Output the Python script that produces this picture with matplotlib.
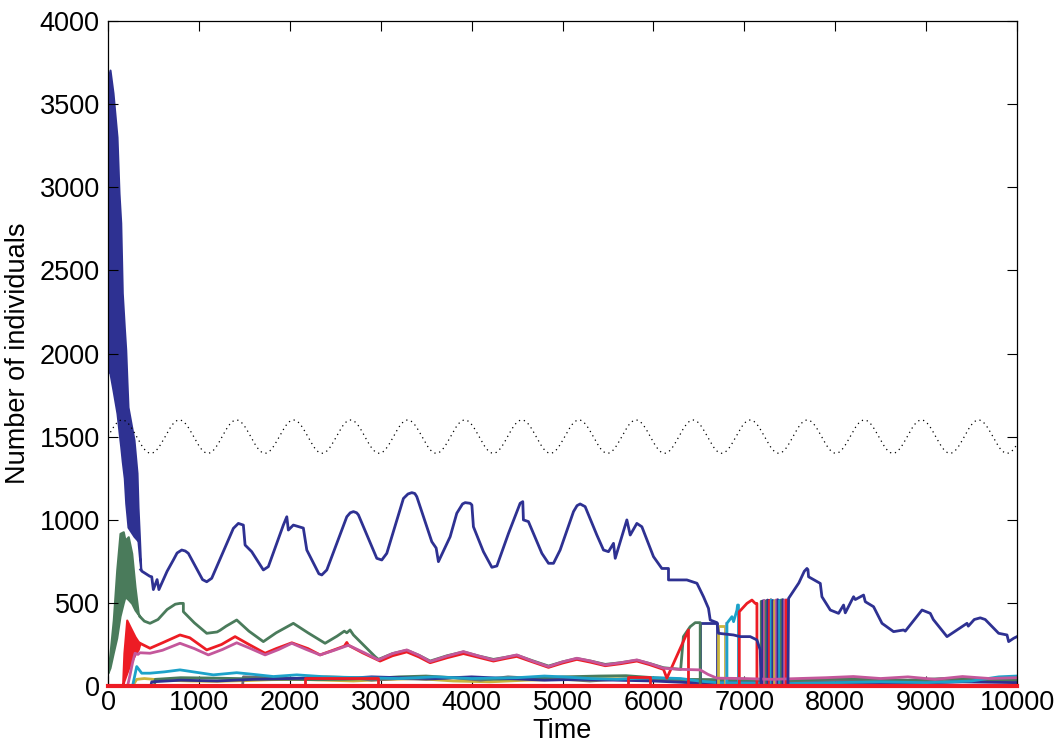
import numpy as np
import matplotlib.pyplot as plt

plt.rcParams['font.family'] = ['Liberation Sans', 'DejaVu Sans']

BLUE = '#2e3192'
GREEN = '#4a7b5b'
RED = '#ed1c24'
PINK = '#c4579b'
CYAN = '#1da2c9'
OLIVE = '#c9b43c'
GREY = '#6d6e70'
LILAC = '#b79fcb'

# carrying capacity (dotted)
cap_mean = 1500
cap_amp = 100
cap_period = 628

# dominant strain: fast oscillating start (envelope), then the slow trace
blue_band_t = [0, 22, 55, 99, 121, 140, 157, 179, 195, 209, 220, 286, 319, 330, 345, 360]
blue_band_hi = [3650, 3705, 3567, 3302, 2965, 2785, 2364, 2159, 2021, 1822, 1678, 1480, 1281, 1077, 900, 710]
blue_band_lo = [1900, 1880, 1780, 1640, 1530, 1440, 1350, 1250, 1100, 1020, 955, 900, 880, 870, 780, 700]

blue_t = [360, 374, 460, 481, 499, 540, 560, 650, 719, 760, 811, 850, 884, 1040, 1086, 1141, 1379,
          1434, 1489, 1508, 1581, 1709, 1764, 1929, 1967, 1984, 2039, 2149, 2187, 2320, 2352,
          2407, 2627, 2665, 2700, 2735, 2755, 2957, 3012, 3067, 3250, 3300, 3342, 3375, 3397,
          3562, 3610, 3635, 3764, 3837, 3900, 3929, 3984, 4003, 4020, 4130, 4223, 4278, 4406,
          4534, 4563, 4570, 4625, 4773, 4846, 4901, 4974, 5121, 5160, 5194, 5249, 5378, 5451,
          5506, 5561, 5580, 5708, 5745, 5818, 5873, 6001, 6093, 6166, 6166, 6368, 6479, 6551,
          6606, 6625, 6699, 6716, 6881, 6955, 7065, 7139, 7175, 7185, 7480, 7487, 7600, 7660,
          7689, 7700, 7707, 7836, 7854, 7946, 8037, 8092, 8111, 8202, 8221, 8312, 8331, 8422,
          8515, 8642, 8752, 8771, 8955, 9046, 9079, 9230, 9450, 9464, 9530, 9596, 9650, 9798,
          9890, 9908, 9963, 10000]
blue_v = [700, 690, 660, 657, 580, 640, 580, 690, 758, 800, 818, 812, 798, 640, 627, 648, 948,
          978, 968, 848, 808, 698, 718, 968, 1018, 938, 968, 950, 818, 675, 668,
          698, 1018, 1042, 1049, 1042, 1029, 768, 758, 798, 1128, 1155, 1163, 1158, 1139,
          868, 830, 748, 898, 1039, 1095, 1103, 1099, 1089, 958, 808, 714, 722, 918,
          1099, 1109, 999, 989, 798, 738, 738, 818, 1049, 1085, 1095, 1079, 908, 818,
          808, 858, 768, 999, 908, 978, 958, 778, 707, 707, 638, 638, 618, 537,
          467, 397, 381, 317, 307, 297, 297, 277, 217, 0, 0, 527, 620, 690,
          707, 700, 657, 617, 537, 457, 437, 487, 440, 537, 520, 547, 507, 477,
          377, 327, 337, 330, 457, 437, 400, 297, 377, 360, 400, 410, 400, 317,
          307, 267, 287, 297]

# second strain
green_band_t = [0, 22, 58, 96, 132, 168, 187, 223, 261, 297, 333, 352]
green_band_hi = [80, 197, 397, 698, 918, 928, 878, 898, 798, 597, 437, 417]
green_band_lo = [80, 110, 200, 290, 420, 500, 537, 520, 497, 457, 430, 417]
green_t = [352, 400, 462, 550, 650, 740, 792, 829, 829, 950, 1086, 1200, 1233, 1300, 1416, 1550,
           1709, 1850, 2039, 2200, 2388, 2520, 2600, 2627, 2663, 2700, 2883, 2938, 2975, 3130,
           3287, 3420, 3544, 3730, 3910, 4080, 4240, 4370, 4497, 4670, 4846, 5000, 5158, 5310,
           5470, 5640, 5818, 5960, 6111, 6300, 6330, 6405, 6460, 6515, 6515]
green_v = [417, 390, 377, 400, 460, 492, 497, 497, 447, 380, 317, 325, 335, 360, 397, 330,
           267, 320, 377, 320, 257, 300, 330, 320, 337, 307, 207, 177, 160, 195,
           215, 185, 150, 182, 205, 180, 160, 172, 185, 152, 120, 145, 165, 150,
           130, 140, 155, 135, 110, 100, 297, 357, 381, 381, 0]

# third strain (red) and fourth strain (pink)
red_band_t = [160, 175, 206, 242, 297, 333, 352]
red_band_hi = [0, 200, 397, 357, 297, 267, 257]
red_band_lo = [0, 30, 77, 130, 190, 220, 257]
red_t = [352, 462, 600, 792, 900, 1086, 1250, 1398, 1550, 1728, 1850, 2022, 2200, 2333, 2450,
         2600, 2627, 2645, 2800, 2993, 3130, 3287, 3420, 3544, 3730, 3910, 4080, 4240, 4370,
         4497, 4670, 4846, 5000, 5158, 5310, 5470, 5640, 5818, 5960, 6111, 6148, 6386, 6386]
red_v = [257, 227, 260, 307, 290, 217, 250, 297, 250, 197, 225, 260, 225, 187, 210,
         240, 262, 245, 200, 150, 182, 205, 175, 140, 170, 195, 172, 150, 165,
         178, 145, 112, 138, 160, 143, 122, 134, 150, 128, 100, 47, 337, 0]
pink_t = [215, 240, 270, 297, 330, 352, 462, 600, 792, 950, 1104, 1260, 1416, 1570, 1728,
          1880, 2022, 2180, 2333, 2490, 2645, 2820, 2975, 3130, 3287, 3420, 3544, 3730, 3910,
          4080, 4240, 4370, 4497, 4670, 4846, 5000, 5158, 5310, 5470, 5640, 5818, 5960, 6111,
          6300, 6515, 6600, 6699, 7000, 7300, 7600, 7900, 8200, 8500, 8800, 9100, 9400, 9700,
          10000]
pink_v = [0, 60, 140, 197, 190, 200, 197, 215, 257, 225, 187, 220, 260, 225, 187,
          220, 257, 220, 187, 215, 245, 200, 157, 195, 217, 185, 147, 180, 207,
          180, 157, 172, 187, 150, 117, 145, 167, 150, 127, 140, 157, 135, 107,
          100, 97, 70, 47, 45, 40, 45, 50, 57, 45, 55, 40, 57, 45, 50]

# small strains near the bottom
cyan_t = [270, 316, 371, 462, 620, 792, 1000, 1159, 1416, 1600, 1819, 2077, 2400, 2800, 3200,
          3600, 4000, 4500, 4800, 5000, 5300, 5600, 6000, 6300, 6500, 6700, 7500, 8000, 8500,
          9000, 9500, 9800, 10000]
cyan_v = [0, 117, 77, 77, 85, 97, 80, 67, 80, 70, 57, 67, 55, 50, 45,
          55, 45, 50, 60, 55, 45, 40, 50, 45, 30, 20, 15, 20, 25,
          20, 30, 55, 60]
olive_t = [270, 316, 400, 600, 900, 1200, 1500, 1800, 2100, 2400, 2700, 3000, 3400, 3800, 4200,
           4600, 5000, 5400, 5800, 6200, 6500, 6800, 7500, 8000, 8500, 9000, 9500, 10000]
olive_v = [0, 40, 45, 35, 30, 28, 32, 38, 40, 35, 30, 38, 45, 30, 25,
           35, 40, 45, 42, 30, 20, 15, 20, 35, 30, 25, 35, 30]
navy_t = [470, 481, 800, 1200, 1600, 2000, 2400, 2600, 2900, 3200, 3600, 4000, 4400, 4800, 5200,
          5600, 6000, 6400, 7600, 8200, 8800, 9400, 10000]
navy_v = [0, 25, 35, 30, 40, 45, 50, 45, 55, 50, 45, 55, 45, 35, 40,
          35, 30, 20, 15, 20, 15, 25, 20]
grey_t = [1480, 1489, 1800, 2100, 2400, 2700, 2900, 3200, 3500, 3800, 4100, 4400, 4700, 5000,
          5300, 5600, 5900, 6200, 6600, 7600, 8000, 8400, 8800, 9200, 9600, 10000]
grey_v = [0, 55, 50, 45, 55, 50, 35, 45, 40, 50, 35, 55, 45, 40,
          30, 40, 45, 30, 25, 30, 35, 25, 30, 40, 35, 30]
moss_t = [510, 520, 800, 1100, 1400, 1700, 2000, 2300, 2600, 2900, 3200, 3500, 3800, 4200, 4600,
          5000, 5400, 5700, 6000, 6300, 7600, 8000, 8400, 8800, 9200, 9600, 10000]
moss_v = [0, 40, 50, 48, 45, 42, 40, 38, 40, 45, 55, 60, 50, 40, 45,
          55, 60, 62, 50, 40, 35, 45, 40, 35, 45, 40, 35]
red_step_t = [2168, 2168, 2975, 2975, 5726, 5726, 5965, 5965]
red_step_v = [0, 50, 50, 0, 0, 57, 57, 0]

# takeover sequence around t = 6500-7500
navy_plateau_t = [6515, 6515, 6699, 6699]
navy_plateau_v = [0, 381, 381, 0]
olive_plateau_t = [6716, 6716, 6790, 6790]
olive_plateau_v = [0, 360, 360, 0]
lilac_t = [6800, 6800]
lilac_v = [0, 377]
cyan_zig_t = [6809, 6809, 6864, 6882, 6919, 6926, 6936, 6936]
cyan_zig_v = [0, 377, 417, 387, 457, 487, 487, 0]
red_hump_t = [6945, 6945, 7029, 7084, 7120, 7139, 7139]
red_hump_v = [0, 447, 497, 517, 497, 497, 0]
takeover_t = [7183, 7200, 7219, 7237, 7256, 7274, 7293, 7311, 7330, 7348, 7367, 7385, 7404,
              7422, 7441, 7460, 7480]
takeover_top = [510, 512, 515, 512, 518, 515, 520, 515, 512, 518, 520, 515, 518, 520, 517,
                520, 520]
takeover_col = [GREEN, BLUE, PINK, GREEN, BLUE, RED, CYAN, BLUE, OLIVE, PINK, BLUE, CYAN,
                GREEN, BLUE, PINK, RED]

fig = plt.figure(figsize=(10.64, 7.43), dpi=100)
ax = fig.add_axes([108 / 1064, 1 - 686 / 743, (1017 - 108) / 1064, (686 - 21) / 743])

lw = 2.0

# low strains first
ax.plot(olive_t, olive_v, color=OLIVE, lw=lw)
ax.plot(grey_t, grey_v, color=GREY, lw=lw)
ax.plot(moss_t, moss_v, color=GREEN, lw=lw)
ax.plot(navy_t, navy_v, color=BLUE, lw=lw)
ax.plot(cyan_t, cyan_v, color=CYAN, lw=lw)
ax.plot(red_step_t, red_step_v, color=RED, lw=lw)

# takeover plateaus
ax.plot(navy_plateau_t, navy_plateau_v, color=BLUE, lw=lw)
ax.plot(olive_plateau_t, olive_plateau_v, color=OLIVE, lw=lw)
ax.plot(lilac_t, lilac_v, color=LILAC, lw=1.2)
ax.plot(cyan_zig_t, cyan_zig_v, color=CYAN, lw=lw)
ax.plot(red_hump_t, red_hump_v, color=RED, lw=lw)
for k in range(len(takeover_t) - 1):
    t0, t1 = takeover_t[k], takeover_t[k + 1]
    ax.plot([t0, t0, t1, t1], [0, takeover_top[k], takeover_top[k + 1], 0],
            color=takeover_col[k], lw=1.6)

# main strains
ax.fill_between(green_band_t, green_band_lo, green_band_hi, color=GREEN, lw=1.5)
ax.plot(green_t, green_v, color=GREEN, lw=lw)
ax.fill_between(red_band_t, red_band_lo, red_band_hi, color=RED, lw=1.5)
ax.plot(red_t, red_v, color=RED, lw=lw)
ax.plot(pink_t, pink_v, color=PINK, lw=lw)
ax.fill_between(blue_band_t, blue_band_lo, blue_band_hi, color=BLUE, lw=1.5)
ax.plot(blue_t, blue_v, color=BLUE, lw=lw)

# carrying capacity
t_cap = np.linspace(0, 10000, 2001)
ax.plot(t_cap, cap_mean + cap_amp * np.sin(2 * np.pi * t_cap / cap_period),
        color='k', lw=0.9, linestyle=(0, (1, 3)))

# extinct strains sit on zero
ax.plot([0, 10000], [0, 0], color=RED, lw=3, clip_on=False, zorder=5)

ax.set_xlim(0, 10000)
ax.set_ylim(0, 4000)
ax.set_xticks(range(0, 10001, 1000))
ax.set_yticks(range(0, 4001, 500))
ax.tick_params(direction='in', length=7, width=0.8, top=True, right=True,
               labelsize=19.5, pad=3)
ax.tick_params(axis='y', pad=6)
for s in ax.spines.values():
    s.set_linewidth(0.9)
ax.set_xlabel('Time', fontsize=19.5, labelpad=1)
ax.set_ylabel('Number of individuals', fontsize=19.5, labelpad=6)

fig.savefig('out.png', dpi=100)
